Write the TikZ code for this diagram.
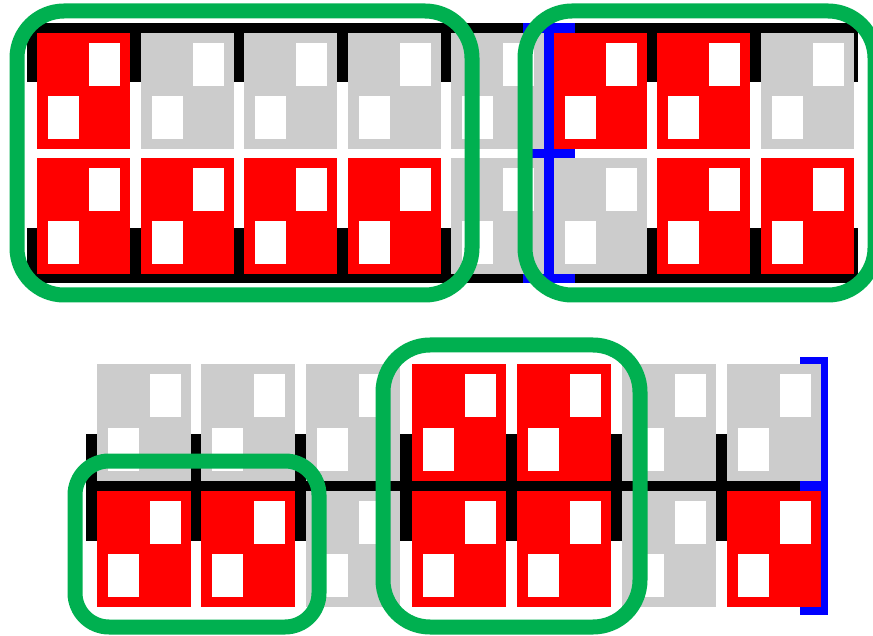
\documentclass[tikz,border=0pt]{standalone}
\definecolor{cred}{HTML}{FF0000}
\definecolor{cgray}{HTML}{CCCCCC}
\definecolor{cgreen}{HTML}{00B050}
\definecolor{cblue}{HTML}{0000FF}
\newcommand\seatcell[5]{% x y w h colour
  \fill[#5] (#1,#2) rectangle ++(#3,#4);
  \fill[white] ({#1+#3-41},{#2+10}) rectangle ++(31,43);
  \fill[white] ({#1+11},{#2+#4-53}) rectangle ++(31,43);
}
\begin{document}
\begin{tikzpicture}[x=1pt,y=-1pt,
  group/.style={draw=cgreen,line width=15pt},
  rail/.style={fill=black},
  marker/.style={fill=cblue}]
\useasboundingbox (0,0) rectangle (873,636);
% ---------- top block ----------
\fill[rail] (27,23) rectangle (858,82);
\fill[rail] (27,228) rectangle (858,283);
\fill[marker] (544,23) rectangle (554,283);
\fill[marker] (523,23) rectangle (575,33);
\fill[marker] (523,149) rectangle (575,158);
\fill[marker] (523,274) rectangle (575,283);
\foreach \x/\ca/\cb in {37/cred/cred,141/cgray/cred,244/cgray/cred,348/cgray/cred,
                        451/cgray/cgray,554/cred/cgray,657/cred/cred,761/cgray/cred}{
  \seatcell{\x}{33}{93}{116}{\ca}
  \seatcell{\x}{158}{93}{116}{\cb}
}
% ---------- bottom block ----------
\fill[rail] (86,434) rectangle (821,541);
\fill[marker] (821,357) rectangle (828,615);
\fill[marker] (800,357) rectangle (828,364);
\fill[marker] (800,481) rectangle (828,491);
\fill[marker] (800,607) rectangle (828,615);
\foreach \x/\ca/\cb in {97/cgray/cred,201/cgray/cred,306/cgray/cgray,412/cred/cred,
                        517/cred/cred,622/cgray/cgray,727/cgray/cred}{
  \seatcell{\x}{364}{94}{117}{\ca}
  \seatcell{\x}{491}{94}{116}{\cb}
}
% ---------- green groups ----------
\draw[group,rounded corners=47pt] (17,11) rectangle (472,295);
\draw[group,rounded corners=47pt] (525,11) rectangle (875,295);
\draw[group,rounded corners=34pt] (75,461) rectangle (319,627);
\draw[group,rounded corners=47pt] (383,345) rectangle (640,627);
\end{tikzpicture}
\end{document}
